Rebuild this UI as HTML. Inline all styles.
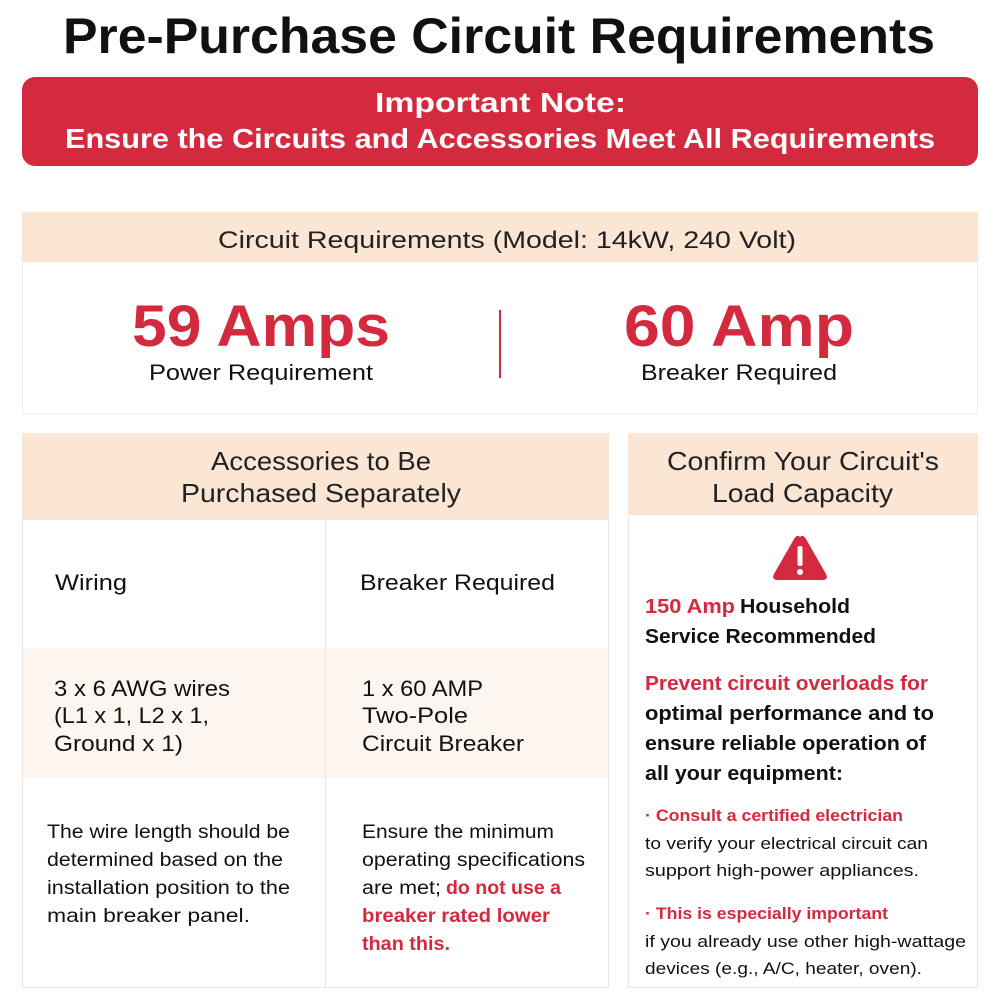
<!DOCTYPE html>
<html><head><meta charset="utf-8"><style>html,body{margin:0;padding:0;background:#fff}svg{display:block}</style></head>
<body>
<svg width="1000" height="1000" viewBox="0 0 1000 1000" xmlns="http://www.w3.org/2000/svg" font-family="Liberation Sans, sans-serif">
<rect width="1000" height="1000" fill="#fff"/>
<g lengthAdjust="spacingAndGlyphs">
<text x="63" y="53" font-size="50" font-weight="bold" fill="#111" textLength="872" lengthAdjust="spacingAndGlyphs">Pre-Purchase Circuit Requirements</text>
</g>
<rect x="22" y="77" width="956" height="89" rx="13" fill="#d42a3f"/>
<text x="375" y="112" font-size="28" font-weight="bold" fill="#fff" textLength="251" lengthAdjust="spacingAndGlyphs">Important Note:</text>
<text x="65" y="148" font-size="28" font-weight="bold" fill="#fff" textLength="870" lengthAdjust="spacingAndGlyphs">Ensure the Circuits and Accessories Meet All Requirements</text>

<rect x="22" y="212" width="956" height="50" fill="#fbe6d3"/>
<rect x="22.5" y="262" width="955" height="152" fill="#fff" stroke="#eee"/>
<text x="218" y="248" font-size="24" fill="#222" textLength="578" lengthAdjust="spacingAndGlyphs">Circuit Requirements (Model: 14kW, 240 Volt)</text>
<text x="132" y="346" font-size="58" font-weight="bold" fill="#d42a3f" textLength="258" lengthAdjust="spacingAndGlyphs">59 Amps</text>
<text x="149" y="380" font-size="22" fill="#111" textLength="224" lengthAdjust="spacingAndGlyphs">Power Requirement</text>
<rect x="499" y="310" width="2" height="68" fill="#d42a3f"/>
<text x="624" y="346" font-size="58" font-weight="bold" fill="#d42a3f" textLength="230" lengthAdjust="spacingAndGlyphs">60 Amp</text>
<text x="641" y="380" font-size="22" fill="#111" textLength="196" lengthAdjust="spacingAndGlyphs">Breaker Required</text>

<!-- left panel -->
<rect x="22.5" y="433.5" width="586" height="554" fill="#fff" stroke="#e6e6e6"/>
<rect x="22" y="433" width="587" height="87" fill="#fbe6d3"/>
<rect x="23" y="648" width="585" height="130" fill="#fdf6f0"/>
<rect x="325" y="520" width="1" height="468" fill="#e6e6e6"/>
<text x="211" y="470" font-size="26" fill="#222" textLength="220" lengthAdjust="spacingAndGlyphs">Accessories to Be</text>
<text x="181" y="502" font-size="26" fill="#222" textLength="280" lengthAdjust="spacingAndGlyphs">Purchased Separately</text>
<text x="55" y="590" font-size="22" fill="#111" textLength="72" lengthAdjust="spacingAndGlyphs">Wiring</text>
<text x="360" y="590" font-size="22" fill="#111" textLength="195" lengthAdjust="spacingAndGlyphs">Breaker Required</text>
<g font-size="22" fill="#111">
<text x="54" y="696" textLength="176" lengthAdjust="spacingAndGlyphs">3 x 6 AWG wires</text>
<text x="54" y="723" textLength="155" lengthAdjust="spacingAndGlyphs">(L1 x 1, L2 x 1,</text>
<text x="54" y="751" textLength="129" lengthAdjust="spacingAndGlyphs">Ground x 1)</text>
<text x="362" y="696" textLength="121" lengthAdjust="spacingAndGlyphs">1 x 60 AMP</text>
<text x="362" y="723" textLength="106" lengthAdjust="spacingAndGlyphs">Two-Pole</text>
<text x="362" y="751" textLength="162" lengthAdjust="spacingAndGlyphs">Circuit Breaker</text>
</g>
<g font-size="19" fill="#111">
<text x="47" y="838" textLength="243" lengthAdjust="spacingAndGlyphs">The wire length should be</text>
<text x="47" y="866" textLength="236" lengthAdjust="spacingAndGlyphs">determined based on the</text>
<text x="47" y="894" textLength="243" lengthAdjust="spacingAndGlyphs">installation position to the</text>
<text x="47" y="922" textLength="203" lengthAdjust="spacingAndGlyphs">main breaker panel.</text>
<text x="362" y="838" textLength="192" lengthAdjust="spacingAndGlyphs">Ensure the minimum</text>
<text x="362" y="866" textLength="223" lengthAdjust="spacingAndGlyphs">operating specifications</text>
<text x="362" y="894" textLength="79" lengthAdjust="spacingAndGlyphs">are met;</text>
</g>
<g font-size="19" fill="#d42a3f" font-weight="bold">
<text x="446" y="894" textLength="115" lengthAdjust="spacingAndGlyphs">do not use a</text>
<text x="362" y="922" textLength="188" lengthAdjust="spacingAndGlyphs">breaker rated lower</text>
<text x="362" y="950" textLength="88" lengthAdjust="spacingAndGlyphs">than this.</text>
</g>

<!-- right panel -->
<rect x="628.5" y="433.5" width="349" height="554" fill="#fff" stroke="#e6e6e6"/>
<rect x="628" y="433" width="350" height="82" fill="#fbe6d3"/>
<text x="667" y="470" font-size="26" fill="#222" textLength="272" lengthAdjust="spacingAndGlyphs">Confirm Your Circuit's</text>
<text x="712" y="502" font-size="26" fill="#222" textLength="181" lengthAdjust="spacingAndGlyphs">Load Capacity</text>
<path d="M800 537 Q803 534 806 539 L826 574 Q829 580 822 580 L778 580 Q771 580 774 574 L794 539 Q797 534 800 537 Z" fill="#d42a3f"/>
<rect x="797.5" y="546" width="5" height="20" rx="2" fill="#fff"/>
<circle cx="800" cy="572" r="3" fill="#fff"/>
<g font-size="20" font-weight="bold">
<text x="645" y="613" fill="#d42a3f" textLength="90" lengthAdjust="spacingAndGlyphs">150 Amp</text>
<text x="740" y="613" fill="#111" textLength="110" lengthAdjust="spacingAndGlyphs">Household</text>
<text x="645" y="643" fill="#111" textLength="231" lengthAdjust="spacingAndGlyphs">Service Recommended</text>
<text x="645" y="690" fill="#d42a3f" textLength="283" lengthAdjust="spacingAndGlyphs">Prevent circuit overloads for</text>
<text x="645" y="720" fill="#111" textLength="289" lengthAdjust="spacingAndGlyphs">optimal  performance and to</text>
<text x="645" y="750" fill="#111" textLength="281" lengthAdjust="spacingAndGlyphs">ensure reliable operation of</text>
<text x="645" y="780" fill="#111" textLength="198" lengthAdjust="spacingAndGlyphs">all your equipment:</text>
</g>
<g font-size="17">
<text x="645" y="821" fill="#d42a3f" font-weight="bold" textLength="258" lengthAdjust="spacingAndGlyphs">· Consult a certified electrician</text>
<text x="645" y="849" fill="#111" textLength="283" lengthAdjust="spacingAndGlyphs">to verify your electrical circuit can</text>
<text x="645" y="876" fill="#111" textLength="274" lengthAdjust="spacingAndGlyphs">support high-power appliances.</text>
<text x="645" y="919" fill="#d42a3f" font-weight="bold" textLength="243" lengthAdjust="spacingAndGlyphs">· This is especially important</text>
<text x="645" y="947" fill="#111" textLength="321" lengthAdjust="spacingAndGlyphs">if you already use other high-wattage</text>
<text x="645" y="974" fill="#111" textLength="277" lengthAdjust="spacingAndGlyphs">devices (e.g., A/C, heater, oven).</text>
</g>
</svg>
</body></html>
